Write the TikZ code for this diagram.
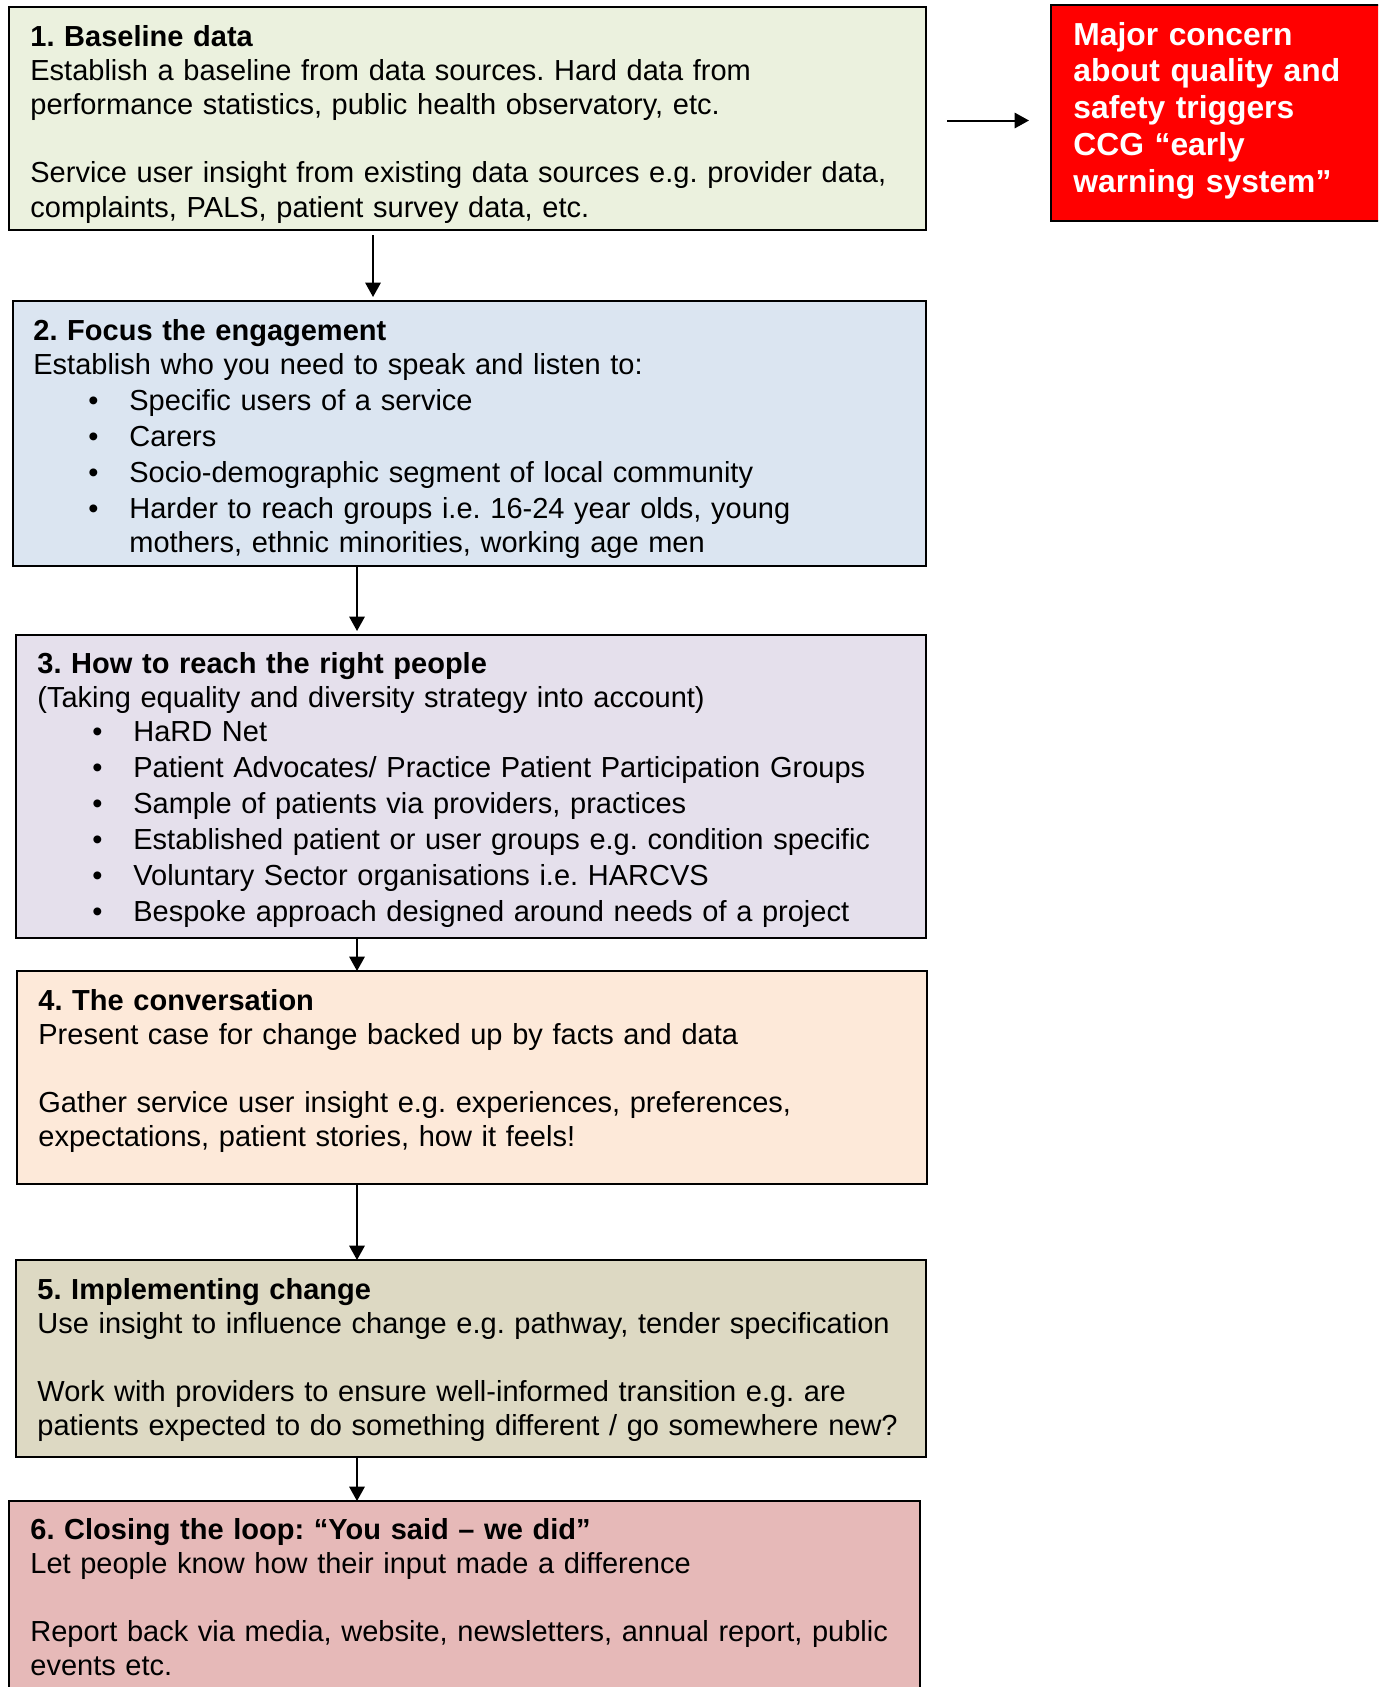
\documentclass[tikz,border=0pt]{standalone}
\usepackage{fontspec}
\setmainfont{Liberation Sans}
\usepackage{tikz}
\usetikzlibrary{arrows.meta}
\frenchspacing

\definecolor{stageone}{HTML}{EBF1DE}
\definecolor{stagetwo}{HTML}{DBE5F1}
\definecolor{stagethree}{HTML}{E5E0EC}
\definecolor{stagefour}{HTML}{FDE9D9}
\definecolor{stagefive}{HTML}{DDD9C3}
\definecolor{stagesix}{HTML}{E6B9B8}
\definecolor{alertred}{HTML}{FF0000}

\newcommand{\bitem}[1]{\hspace*{27.5pt}\makebox[20.5pt][l]{\textbullet}#1}

\begin{document}
\begin{tikzpicture}[x=0.5pt, y=-0.5pt,
  stage/.style={draw=black, line width=1pt, anchor=north west, inner sep=0pt, outer sep=0pt},
  stagetext/.style={anchor=base west, inner sep=0pt, text width=440pt, align=left, font=\fontsize{14.5}{17.1}\selectfont},
  flow/.style={-{Triangle[length=7.2pt,width=7.7pt]}, line width=1pt}]

      \useasboundingbox (0,0) rectangle (1378,1687);
      \clip (0,0) rectangle (1378,1687);

      \node[stage, fill=stageone,   minimum width=458.5pt, minimum height=111.5pt]  (b1) at (9, 7)      {};
      \node[stage, fill=stagetwo,   minimum width=456.5pt, minimum height=132.5pt]  (b2) at (13, 301)   {};
      \node[stage, fill=stagethree, minimum width=455pt,   minimum height=151.5pt]  (b3) at (16, 635)   {};
      \node[stage, fill=stagefour,  minimum width=455pt,   minimum height=106.5pt]  (b4) at (17, 971)   {};
      \node[stage, fill=stagefive,  minimum width=455pt,   minimum height=98.5pt]   (b5) at (16, 1260)  {};
      \node[stage, fill=stagesix,   minimum width=455.5pt, minimum height=110pt]    (b6) at (9, 1501)   {};
      \node[stage, fill=alertred,   minimum width=175pt,   minimum height=107.75pt] (alert) at (1051, 5) {};

      \node[stagetext] (t1) at (30, 46) {\textbf{1. Baseline data}\\
        Establish a baseline from data sources. Hard data from\\
        performance statistics, public health observatory, etc.\\[17.1pt]
        Service user insight from existing data sources e.g. provider data,\\
        complaints, PALS, patient survey data, etc.};

      \node[stagetext] (t2) at (33, 340) {\textbf{2. Focus the engagement}\\
        Establish who you need to speak and listen to:\\[0.9pt]
        \bitem{Specific users of a service}\\[0.9pt]
        \bitem{Carers}\\[0.9pt]
        \bitem{Socio-demographic segment of local community}\\[0.9pt]
        \bitem{Harder to reach groups i.e. 16-24 year olds, young}\\
        \hspace*{48pt}mothers, ethnic minorities, working age men};

      \node[stagetext] (t3) at (37, 673) {\textbf{3. How to reach the right people}\\
        (Taking equality and diversity strategy into account)\\
        \bitem{HaRD Net}\\[0.9pt]
        \bitem{Patient Advocates/ Practice Patient Participation Groups}\\[0.9pt]
        \bitem{Sample of patients via providers, practices}\\[0.9pt]
        \bitem{Established patient or user groups e.g. condition specific}\\[0.9pt]
        \bitem{Voluntary Sector organisations i.e. HARCVS}\\[0.9pt]
        \bitem{Bespoke approach designed around needs of a project}};

      \node[stagetext] (t4) at (38, 1010) {\textbf{4. The conversation}\\
        Present case for change backed up by facts and data\\[17.1pt]
        Gather service user insight e.g. experiences, preferences,\\
        expectations, patient stories, how it feels!};

      \node[stagetext] (t5) at (37, 1299) {\textbf{5. Implementing change}\\
        Use insight to influence change e.g. pathway, tender specification\\[17.1pt]
        Work with providers to ensure well-informed transition e.g. are\\
        patients expected to do something different / go somewhere new?};

      \node[stagetext] (t6) at (30, 1539) {\textbf{6. Closing the loop: “You said – we did”}\\
        Let people know how their input made a difference\\[17.1pt]
        Report back via media, website, newsletters, annual report, public\\
        events etc.};

      \node[anchor=base west, inner sep=0pt, text width=165pt, align=left, text=white,
            font=\fontsize{15.9}{18.45}\selectfont\bfseries] (alerttext) at (1073, 45)
        {Major concern\\about quality and\\safety triggers\\CCG “early\\warning system”};

      \coordinate (first) at (373, 0);
      \coordinate (spine) at (357, 0);

      \draw[flow, shorten <=2.5pt, shorten >=2pt] (b1.south -| first) -- (b2.north -| first);
      \draw[flow, shorten >=2pt] (b2.south -| spine) -- (b3.north -| spine);
      \draw[flow] (b3.south -| spine) -- (b4.north -| spine);
      \draw[flow] (b4.south -| spine) -- (b5.north -| spine);
      \draw[flow] (b5.south -| spine) -- (b6.north -| spine);
      \draw[flow, shorten <=10.5pt, shorten >=11pt] ([yshift=-1pt]b1.east) -- ([yshift=-1pt]b1.east -| alert.west);
    \end{tikzpicture}
\end{document}
